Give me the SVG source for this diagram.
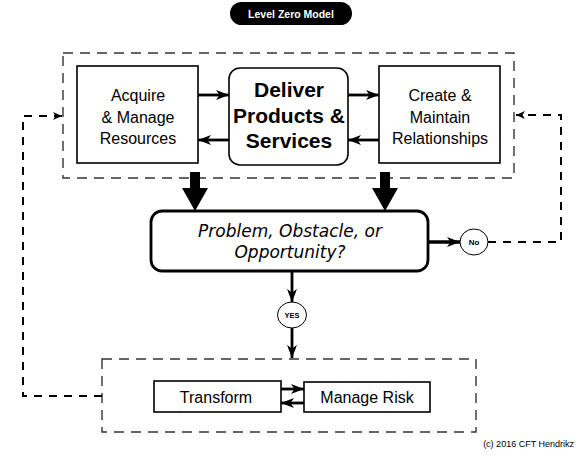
<svg xmlns="http://www.w3.org/2000/svg" width="583" height="462" viewBox="0 0 583 462">
<style>
  .box { fill: #fff; stroke: #000; stroke-width: 1.6; }
  .lbl { font-family: "Liberation Sans", Arial, sans-serif; font-size: 16px; fill: #000; text-anchor: middle; }
  .big { font-family: "Liberation Sans", Arial, sans-serif; font-size: 21px; font-weight: bold; fill: #000; text-anchor: middle; }
  .hand { font-family: "DejaVu Sans", sans-serif; font-style: italic; font-size: 17px; fill: #000; text-anchor: middle; }
  .tiny { font-family: "Liberation Sans", Arial, sans-serif; font-weight: bold; fill: #000; text-anchor: middle; }
  .group { fill: none; stroke: #333; stroke-width: 1.4; stroke-dasharray: 10 7; }
  .flow { fill: none; stroke: #000; stroke-width: 2.8; }
  .fb { fill: none; stroke: #000; stroke-width: 2; stroke-dasharray: 8 7; }
</style>
<defs>
  <marker id="ah" markerUnits="userSpaceOnUse" markerWidth="14" markerHeight="12" refX="13" refY="5" orient="auto">
    <path d="M0,0 L13,5 L0,10 L3.5,5 Z" fill="#000"/>
  </marker>
  <marker id="ahs" markerUnits="userSpaceOnUse" markerWidth="10" markerHeight="10" refX="9" refY="4" orient="auto">
    <path d="M0,0 L9,4 L0,8 L2.5,4 Z" fill="#000"/>
  </marker>
</defs>
<rect width="583" height="462" fill="#fff"/>

<g id="title">
  <rect x="230" y="2" width="122" height="23" rx="11.5" fill="#000"/>
  <text x="291" y="17.5" font-family="Liberation Sans, Arial, sans-serif" font-size="10.5" font-weight="bold" fill="#fff" text-anchor="middle">Level Zero Model</text>
</g>

<g id="core-group">
  <rect class="group" x="63" y="53" width="451" height="125"/>
</g>
<g id="change-group">
  <rect class="group" x="102" y="359" width="374" height="73"/>
</g>

<g id="connectors">
  <line class="flow" x1="198" y1="95" x2="229" y2="95" marker-end="url(#ah)"/>
  <line class="flow" x1="229" y1="140" x2="198" y2="140" marker-end="url(#ah)"/>
  <line class="flow" x1="348" y1="95" x2="379" y2="95" marker-end="url(#ah)"/>
  <line class="flow" x1="379" y1="140" x2="348" y2="140" marker-end="url(#ah)"/>
  <polygon points="190,172 200,172 200,188 208,188 195,211 182,188 190,188" fill="#000"/>
  <polygon points="380,172 390,172 390,188 398,188 385,211 372,188 380,188" fill="#000"/>
  <line x1="428" y1="242" x2="460" y2="242" stroke="#000" stroke-width="3.5" marker-end="url(#ah)"/>
  <line class="flow" x1="292" y1="272" x2="292" y2="302" stroke-width="2.5" marker-end="url(#ah)"/>
  <line class="flow" x1="292" y1="328" x2="292" y2="358" stroke-width="2.5" marker-end="url(#ah)"/>
  <line class="flow" x1="281" y1="389" x2="304" y2="389" marker-end="url(#ah)"/>
  <line class="flow" x1="304" y1="403" x2="281" y2="403" marker-end="url(#ah)"/>
  <polyline class="fb" points="488,242 561,242 561,115 516,115" marker-end="url(#ahs)"/>
  <polyline class="fb" points="102,396 23,396 23,116 62,116" marker-end="url(#ahs)"/>
</g>

<g id="acquire">
  <rect class="box" x="77" y="66" width="121" height="97"/>
  <text class="lbl" x="138" y="100.5">Acquire</text>
  <text class="lbl" x="138" y="122.5">&amp; Manage</text>
  <text class="lbl" x="138" y="143.5">Resources</text>
</g>

<g id="deliver">
  <rect class="box" x="229" y="68" width="119" height="97" rx="11"/>
  <text class="big" x="289" y="96.5">Deliver</text>
  <text class="big" x="289" y="122.5">Products &amp;</text>
  <text class="big" x="289" y="147.5">Services</text>
</g>

<g id="create">
  <rect class="box" x="379" y="66" width="121" height="97"/>
  <text class="lbl" x="440" y="100.5">Create &amp;</text>
  <text class="lbl" x="440" y="122.5">Maintain</text>
  <text class="lbl" x="440" y="143.5">Relationships</text>
</g>

<g id="problem">
  <rect x="151" y="211" width="277" height="60" rx="11" fill="#fff" stroke="#000" stroke-width="2.8"/>
  <text class="hand" x="290" y="237">Problem, Obstacle, or</text>
  <text class="hand" x="290" y="257.5">Opportunity?</text>
</g>

<g id="no">
  <ellipse cx="474" cy="242" rx="14" ry="13" fill="#fff" stroke="#000" stroke-width="1"/>
  <text class="tiny" x="474" y="245" font-size="8">No</text>
</g>

<g id="yes">
  <ellipse cx="292" cy="315" rx="14.5" ry="13" fill="#fff" stroke="#000" stroke-width="1"/>
  <text class="tiny" x="292" y="317.7" font-size="7.5">YES</text>
</g>

<g id="transform">
  <rect class="box" x="154" y="381" width="127" height="31"/>
  <text class="lbl" x="216" y="402.7">Transform</text>
</g>

<g id="manage-risk">
  <rect class="box" x="304" y="382" width="126" height="30"/>
  <text class="lbl" x="367" y="402.7">Manage Risk</text>
</g>

<text x="574" y="446.5" font-family="Liberation Sans, Arial, sans-serif" font-size="9" fill="#000" text-anchor="end">(c) 2016 CFT Hendrikz</text>
</svg>
